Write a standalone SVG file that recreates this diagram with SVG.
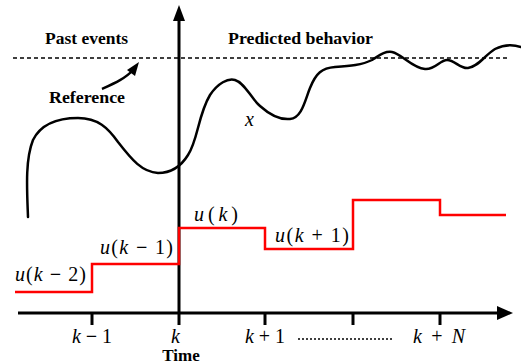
<svg xmlns="http://www.w3.org/2000/svg" width="521" height="364" viewBox="0 0 521 364">
<style>
.lbl{font-family:"Liberation Serif","Times New Roman",serif;font-weight:bold;font-size:17px;fill:#000}
.math{font-family:"Liberation Serif","Times New Roman",serif;font-size:20px;fill:#000}
.it{font-style:italic}
.mn{font-weight:bold}
.axis{stroke:#000;stroke-width:3;fill:none}
.curve{stroke:#000;stroke-width:2.5;fill:none;stroke-linecap:round}
.ctrl{stroke:#ff0000;stroke-width:2.5;fill:none}
</style>
<rect width="521" height="364" fill="#fff"/>
<g id="reference-line">
<line x1="13" y1="58" x2="508" y2="58" stroke="#000" stroke-width="1.5" stroke-dasharray="4,3"/>
</g>
<g id="axes">
<line class="axis" x1="179" y1="18" x2="179" y2="325"/>
<polygon points="179,5 173,21 185,21" fill="#000"/>
<line class="axis" x1="18" y1="313" x2="499" y2="313"/>
<polygon points="513,313 497,306 497,320" fill="#000"/>
<line class="axis" x1="92" y1="313" x2="92" y2="325"/>
<line class="axis" x1="265" y1="313" x2="265" y2="325"/>
<line class="axis" x1="353" y1="313" x2="353" y2="325"/>
<line class="axis" x1="440" y1="313" x2="440" y2="325"/>
<line x1="298" y1="339" x2="394" y2="339" stroke="#000" stroke-width="1.5" stroke-dasharray="2,2"/>
</g>
<g id="output-curve">
<path class="curve" d="M28,217 C27,190 25,160 33,140 C42,122 62,118 78,118 C98,118 108,128 118,142 C132,160 142,172 158,173 C170,173 180,168 188,155 C198,140 198,115 210,95 C218,83 228,78 235,80 C245,83 250,97 260,106 C270,115 280,120 290,119 C302,118 305,100 310,88 C316,73 322,68 335,67 C350,66 362,65 372,60 C380,55 385,51 392,52 C402,54 412,68 425,69 C435,70 440,60 447,60 C455,60 460,69 468,68 C478,67 485,55 495,49 C503,45 512,44 521,47"/>
</g>
<g id="control-signal">
<polyline class="ctrl" points="15,292 92,292 92,264 179,264 179,228 265,228 265,249 353,249 353,200 440,200 440,215 506,215"/>
</g>
<g id="reference-arrow">
<path d="M102,89 C115,83 126,78 133,70" stroke="#000" stroke-width="2.5" fill="none"/>
<polygon points="139,62 127,70 135,76" fill="#000"/>
</g>
<g id="labels">
<text class="lbl" x="45" y="44" textLength="83" lengthAdjust="spacingAndGlyphs">Past events</text>
<text class="lbl" x="228" y="44" textLength="145" lengthAdjust="spacingAndGlyphs">Predicted behavior</text>
<text class="lbl" x="49" y="103" textLength="76" lengthAdjust="spacingAndGlyphs">Reference</text>
<text class="lbl" x="181" y="361" text-anchor="middle">Time</text>
<text class="math it" x="245" y="126" font-size="24">x</text>
<text class="math" x="15" y="281" textLength="71"><tspan class="it">u</tspan>(<tspan class="it">k</tspan> <tspan class="mn">−</tspan> 2)</text>
<text class="math" x="100" y="254" textLength="73"><tspan class="it">u</tspan>(<tspan class="it">k</tspan> <tspan class="mn">−</tspan> 1)</text>
<text class="math" x="194" y="221" textLength="44"><tspan class="it">u</tspan>(<tspan class="it">k</tspan>)</text>
<text class="math" x="275" y="242" textLength="74"><tspan class="it">u</tspan>(<tspan class="it">k</tspan> + 1)</text>
<text class="math" x="72" y="343" textLength="40"><tspan class="it">k</tspan> <tspan class="mn">−</tspan> 1</text>
<text class="math it" x="171" y="343">k</text>
<text class="math" x="245" y="343" textLength="40"><tspan class="it">k</tspan> + 1</text>
<text class="math" x="413" y="343" textLength="52"><tspan class="it">k</tspan> + <tspan class="it">N</tspan></text>
</g>
</svg>
